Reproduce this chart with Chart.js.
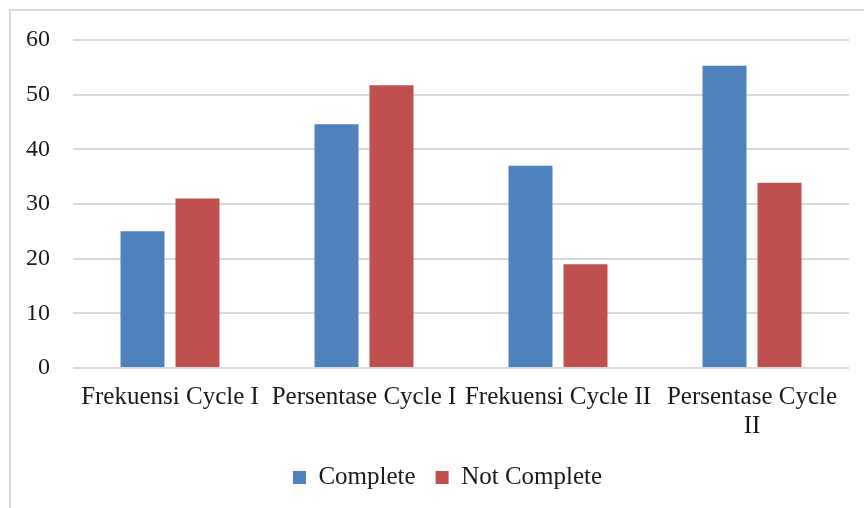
<!DOCTYPE html>
<html>
<head>
<meta charset="utf-8">
<script src="https://cdn.jsdelivr.net/npm/chart.js@4.4.0/dist/chart.umd.min.js"></script>
<style>
  html, body { margin: 0; padding: 0; background: #fff; overflow: hidden; }
  #wrap { position: relative; width: 864px; height: 508px; }
  #frame { position: absolute; left: 9px; top: 9px; width: 900px; height: 600px;
           border-left: 2px solid #d9d9d9; border-top: 2px solid #d9d9d9; }
  canvas { position: absolute; left: 0; top: 0; }
</style>
</head>
<body>
<div id="wrap">
  <div id="frame"></div>
  <canvas id="grafico" width="864" height="508"></canvas>
</div>
<script>
var categorias = ["Frekuensi Cycle I", "Persentase Cycle I", "Frekuensi Cycle II", ["Persentase Cycle", "II"]];
var complete = [25, 44.6, 37, 55.3];
var notComplete = [31, 51.7, 19, 33.9];
var yMin = 0;
var yMax = 60;
var yStep = 10;

var fonte = "'Liberation Serif', 'Times New Roman', serif";

Chart.defaults.font.family = fonte;
Chart.defaults.color = "#1a1a1a";

// legenda um pouco deslocada para a direita, como no original
const moverLegenda = {
  id: "moverLegenda",
  afterLayout(chart) {
    chart.legend.left += 23;
    chart.legend.right += 23;
  },
};

const ctx = document.getElementById("grafico").getContext("2d");
let myChart = new Chart(ctx, {
  type: "bar",
  data: {
    labels: categorias,
    datasets: [
      {
        label: "Complete",
        data: complete,
        backgroundColor: "#4F81BD",
        borderWidth: 0,
        categoryPercentage: 0.567,
        barPercentage: 0.8,
      },
      {
        label: "Not Complete",
        data: notComplete,
        backgroundColor: "#C0504D",
        borderWidth: 0,
        categoryPercentage: 0.567,
        barPercentage: 0.8,
      },
    ],
  },
  options: {
    responsive: false,
    animation: false,
    layout: { padding: { left: 0, right: 15, top: 40, bottom: 8 } },
    plugins: {
      tooltip: { enabled: false },
      legend: {
        position: "bottom",
        labels: {
          boxWidth: 13,
          boxHeight: 13,
          padding: 20,
          font: { size: 25 },
          color: "#1a1a1a",
        },
      },
    },
    scales: {
      x: {
        grid: { display: false, drawTicks: false },
        border: { display: false },
        ticks: {
          font: { size: 25, lineHeight: 1.15 },
          padding: 15,
          maxRotation: 0,
          autoSkip: false,
        },
        afterFit: (scale) => { scale.height = 77; },
      },
      y: {
        min: yMin,
        max: yMax,
        grid: { color: "#d9d9d9", lineWidth: 2, drawTicks: false },
        border: { display: false },
        ticks: {
          stepSize: yStep,
          font: { size: 24 },
          padding: 23,
        },
        afterFit: (scale) => { scale.width = 73; },
      },
    },
  },
  plugins: [moverLegenda],
});
</script>
</body>
</html>
